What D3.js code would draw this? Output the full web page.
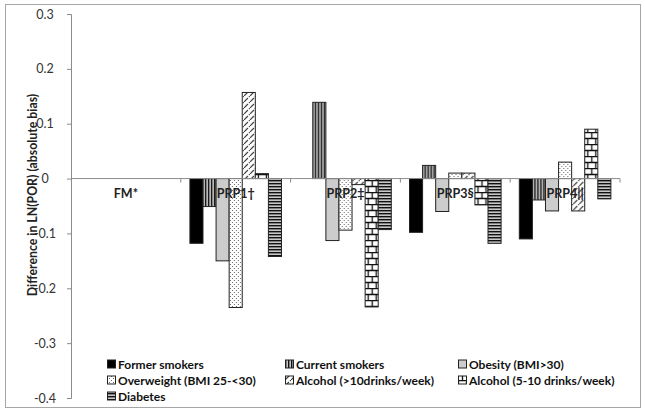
<!DOCTYPE html>
<html>
<head>
<meta charset="utf-8">
<script src="https://cdn.jsdelivr.net/npm/d3@7"></script>
<style>
  html, body { margin: 0; padding: 0; background: #fff; }
  svg { display: block; }
</style>
</head>
<body>
<svg id="chart" width="645" height="413"></svg>
<script>
// ---- data ----
const categories = ["FM*", "PRP1\u2020", "PRP2\u2021", "PRP3\u00a7", "PRP4||"];
const seriesNames = [
  "Former smokers", "Current smokers", "Obesity (BMI>30)",
  "Overweight (BMI 25-<30)", "Alcohol (>10drinks/week)", "Alcohol (5-10 drinks/week)",
  "Diabetes"
];
const formerSmokers   = [0, -0.118,  0.000, -0.098, -0.110];
const currentSmokers  = [0, -0.051,  0.139,  0.024, -0.039];
const obesity         = [0, -0.150, -0.113, -0.060, -0.059];
const overweight      = [0, -0.235, -0.094,  0.010,  0.030];
const alcoholHeavy    = [0,  0.157, -0.011,  0.010, -0.059];
const alcoholModerate = [0,  0.009, -0.234, -0.048,  0.090];
const diabetes        = [0, -0.142, -0.093, -0.118, -0.037];
const yTicks = [0.3, 0.2, 0.1, 0, -0.1, -0.2, -0.3, -0.4];

const seriesValues = [formerSmokers, currentSmokers, obesity, overweight, alcoholHeavy, alcoholModerate, diabetes];
const patternIds = ["p-solid-black", "p-vert", "p-gray", "p-dots", "p-diag", "p-brick", "p-horiz"];

const svg = d3.select("#chart");
const font = "Lato, 'Open Sans', 'Liberation Sans', sans-serif";

// ---- patterns ----
const defs = svg.append("defs");
defs.append("pattern").attr("id", "p-solid-black").attr("patternUnits", "userSpaceOnUse")
  .attr("width", 4).attr("height", 4)
  .append("rect").attr("width", 4).attr("height", 4).attr("fill", "#000");

let p = defs.append("pattern").attr("id", "p-vert").attr("patternUnits", "userSpaceOnUse")
  .attr("width", 3).attr("height", 4);
p.append("rect").attr("width", 3).attr("height", 4).attr("fill", "#c8c8c8");
p.append("rect").attr("x", 0).attr("width", 1.4).attr("height", 4).attr("fill", "#111");

p = defs.append("pattern").attr("id", "p-horiz").attr("patternUnits", "userSpaceOnUse")
  .attr("width", 4).attr("height", 3);
p.append("rect").attr("width", 4).attr("height", 3).attr("fill", "#c8c8c8");
p.append("rect").attr("y", 0).attr("width", 4).attr("height", 1.4).attr("fill", "#111");

defs.append("pattern").attr("id", "p-gray").attr("patternUnits", "userSpaceOnUse")
  .attr("width", 4).attr("height", 4)
  .append("rect").attr("width", 4).attr("height", 4).attr("fill", "#cccccc");

p = defs.append("pattern").attr("id", "p-dots").attr("patternUnits", "userSpaceOnUse")
  .attr("width", 4).attr("height", 4);
p.append("rect").attr("width", 4).attr("height", 4).attr("fill", "#fff");
p.append("rect").attr("x", 0).attr("y", 0).attr("width", 1).attr("height", 1).attr("fill", "#666");
p.append("rect").attr("x", 2).attr("y", 2).attr("width", 1).attr("height", 1).attr("fill", "#666");

p = defs.append("pattern").attr("id", "p-diag").attr("patternUnits", "userSpaceOnUse")
  .attr("width", 6).attr("height", 6);
p.append("rect").attr("width", 6).attr("height", 6).attr("fill", "#fff");
p.append("path").attr("d", "M0,6 L4,2").attr("stroke", "#333").attr("stroke-width", 1.1);
p.append("path").attr("d", "M5,1 L6,0").attr("stroke", "#333").attr("stroke-width", 1.1);

p = defs.append("pattern").attr("id", "p-brick").attr("patternUnits", "userSpaceOnUse")
  .attr("width", 16).attr("height", 12);
p.append("rect").attr("width", 16).attr("height", 12).attr("fill", "#fff");
p.append("path")
  .attr("d", "M0,0.5 H16 M0,6.5 H16 M0.5,0 V6 M8.5,0 V6 M4.5,6 V12 M12.5,6 V12")
  .attr("stroke", "#111").attr("stroke-width", 1.3).attr("fill", "none");

// ---- frame ----
svg.append("rect").attr("x", 5.5).attr("y", 4.5).attr("width", 635).attr("height", 403)
  .attr("fill", "none").attr("stroke", "#a6a6a6").attr("stroke-width", 1);

// ---- scales ----
const x0 = d3.scaleBand().domain(categories).range([71, 620])
  .paddingInner(0.166).paddingOuter(0.083);
const x1 = d3.scaleBand().domain(d3.range(seriesNames.length)).range([0, x0.bandwidth()]);
const y = d3.scaleLinear().domain([-0.4, 0.3]).range([398, 14]);

// ---- y axis ----
const yAxis = svg.append("g").attr("transform", "translate(71,0)")
  .call(d3.axisLeft(y).tickValues(yTicks).tickSize(4)
    .tickFormat(d => d === 0 ? "0" : d3.format(".1f")(d).replace("\u2212", "-")));
yAxis.select(".domain").attr("stroke", "#8c8c8c");
yAxis.selectAll(".tick line").attr("stroke", "#8c8c8c");
yAxis.selectAll(".tick text").attr("font-family", font).attr("font-size", 12.5)
  .attr("fill", "#333").attr("x", -26).attr("text-anchor", "middle");

// ---- bars ----
const groups = svg.append("g").selectAll("g").data(categories).join("g")
  .attr("transform", d => `translate(${x0(d)},0)`);
groups.selectAll("rect")
  .data((c, ci) => seriesValues.map((vals, si) => ({ si, v: vals[ci] })).filter(d => d.v !== 0))
  .join("rect")
  .attr("x", d => x1(d.si))
  .attr("width", x1.bandwidth())
  .attr("y", d => y(Math.max(0, d.v)))
  .attr("height", d => Math.abs(y(d.v) - y(0)))
  .attr("fill", d => `url(#${patternIds[d.si]})`)
  .attr("stroke", "#222").attr("stroke-width", 1);

// ---- category axis at zero ----
const y0 = y(0);
const xAxis = svg.append("g").attr("transform", `translate(0,${y0})`);
xAxis.append("line").attr("x1", 71).attr("x2", 620).attr("y1", 0).attr("y2", 0)
  .attr("stroke", "#8c8c8c");
const bounds = categories.map(c => x0(c) - x0.step() * x0.paddingInner() / 2).concat([620]);
xAxis.selectAll("line.tk").data(bounds.slice(1)).join("line").attr("class", "tk")
  .attr("x1", d => d).attr("x2", d => d).attr("y1", 0).attr("y2", 4).attr("stroke", "#8c8c8c");
xAxis.selectAll("text").data(categories).join("text")
  .attr("x", d => x0(d) + x0.bandwidth() / 2).attr("y", 19)
  .attr("text-anchor", "middle").attr("font-family", font).attr("font-weight", "bold")
  .attr("font-size", 12.5).attr("fill", "#222").text(d => d);

// ---- y title ----
svg.append("text").attr("transform", "translate(37,195) rotate(-90)")
  .attr("text-anchor", "middle").attr("font-family", font).attr("font-weight", "bold")
  .attr("font-size", 12.3).attr("fill", "#222")
  .text("Difference in LN(POR) (absolute bias)");

// ---- legend ----
const colX = [107, 285, 458];
const rowY = [364, 380, 396];
const leg = svg.append("g").selectAll("g").data(seriesNames).join("g")
  .attr("transform", (d, i) => `translate(${colX[i % 3]},${rowY[Math.floor(i / 3)]})`);
leg.append("rect").attr("x", 0.5).attr("y", -4).attr("width", 8).attr("height", 8)
  .attr("fill", (d, i) => `url(#${patternIds[i]})`).attr("stroke", "#222").attr("stroke-width", 1);
leg.append("text").attr("x", 11).attr("y", 4.5).attr("font-family", font)
  .attr("font-weight", "bold").attr("font-size", 12).attr("fill", "#111").text(d => d);
</script>
</body>
</html>
